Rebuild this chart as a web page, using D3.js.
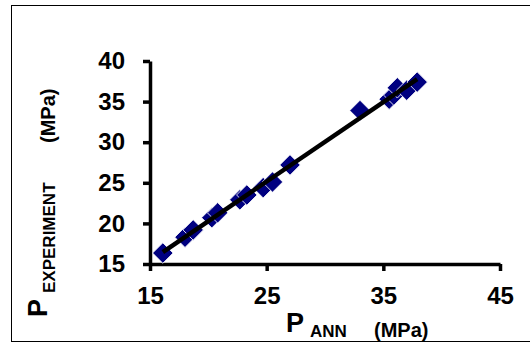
<!DOCTYPE html>
<html>
<head>
<meta charset="utf-8">
<script src="https://cdn.jsdelivr.net/npm/d3@7"></script>
<style>
  body { margin: 0; background: #fff; }
  text { font-family: "Liberation Sans", Arial, sans-serif; font-weight: bold; fill: #000; }
</style>
</head>
<body>
<script>
// values
const pAnn = [16.1, 18.0, 18.7, 20.3, 20.8, 22.7, 23.3, 24.7, 25.5, 27.0, 33.0, 35.5, 35.9, 36.2, 37.0, 37.9];
const pExp = [16.35, 18.3, 19.2, 20.7, 21.3, 22.9, 23.5, 24.4, 25.1, 27.2, 33.9, 35.3, 35.8, 36.7, 36.4, 37.4];
const xTicks = [15, 25, 35, 45];
const yTicks = [15, 20, 25, 30, 35, 40];

const width = 530, height = 347;

const svg = d3.select("body").append("svg")
  .attr("width", width)
  .attr("height", height);

// outer frame
svg.append("rect")
  .attr("x", 11.5).attr("y", 5.5)
  .attr("width", 530).attr("height", 336)
  .attr("fill", "none")
  .attr("stroke", "#000")
  .attr("stroke-width", 1);

const x = d3.scaleLinear().domain([15, 45]).range([150, 500]);
const y = d3.scaleLinear().domain([15, 40]).range([264, 61]);

// axes
const xAxis = svg.append("g")
  .attr("transform", `translate(0,${y(15)})`)
  .call(d3.axisBottom(x).tickValues(xTicks).tickSize(7).tickSizeOuter(0).tickFormat(d3.format("d")));
const yAxis = svg.append("g")
  .attr("transform", `translate(${x(15)},0)`)
  .call(d3.axisLeft(y).tickValues(yTicks).tickSize(7).tickSizeOuter(0).tickFormat(d3.format("d")));

for (const g of [xAxis, yAxis]) {
  g.select(".domain").attr("stroke", "#000").attr("stroke-width", 3.5);
  g.selectAll(".tick line").attr("stroke", "#000").attr("stroke-width", 3.5);
  g.selectAll(".tick text")
    .attr("font-family", "'Liberation Sans', Arial, sans-serif")
    .attr("font-weight", "bold")
    .attr("font-size", 24)
    .attr("fill", "#000");
}
xAxis.selectAll(".tick text").attr("y", 23);
yAxis.selectAll(".tick text").attr("x", -25);

// markers
const diamond = d3.symbol().type(d3.symbolSquare).size(210);
const pts = pAnn.map((v, i) => ({x: v, y: pExp[i]}));
svg.append("g").selectAll("path")
  .data(pts)
  .join("path")
  .attr("d", diamond)
  .attr("transform", d => `translate(${x(d.x)},${y(d.y)}) rotate(45)`)
  .attr("fill", "#000080")
  .attr("stroke", "#fff")
  .attr("stroke-width", 0.8);

// least squares trend line over the data range
const mx = d3.mean(pAnn), my = d3.mean(pExp);
const slope = d3.sum(pAnn, (v, i) => (v - mx) * (pExp[i] - my)) / d3.sum(pAnn, v => (v - mx) ** 2);
const icpt = my - slope * mx;
const ext = d3.extent(pAnn);
svg.append("path")
  .datum(ext.map(v => ({x: v, y: icpt + slope * v})))
  .attr("d", d3.line().x(d => x(d.x)).y(d => y(d.y)))
  .attr("stroke", "#000")
  .attr("stroke-width", 4.5)
  .attr("fill", "none");

// x title
const xt = svg.append("text").attr("x", 286).attr("y", 332);
xt.append("tspan").attr("font-size", 27).text("P");
xt.append("tspan").attr("font-size", 17).attr("dx", 6).attr("dy", 5).text("ANN");
xt.append("tspan").attr("font-size", 20).attr("x", 374).text("(MPa)");

// y title
const yt = svg.append("text").attr("transform", "translate(47,317) rotate(-90)");
yt.append("tspan").attr("font-size", 27).text("P");
yt.append("tspan").attr("font-size", 17).attr("dx", 6).attr("dy", 8).text("EXPERIMENT");
yt.append("tspan").attr("font-size", 20).attr("x", 174).text("(MPa)");
</script>
</body>
</html>
